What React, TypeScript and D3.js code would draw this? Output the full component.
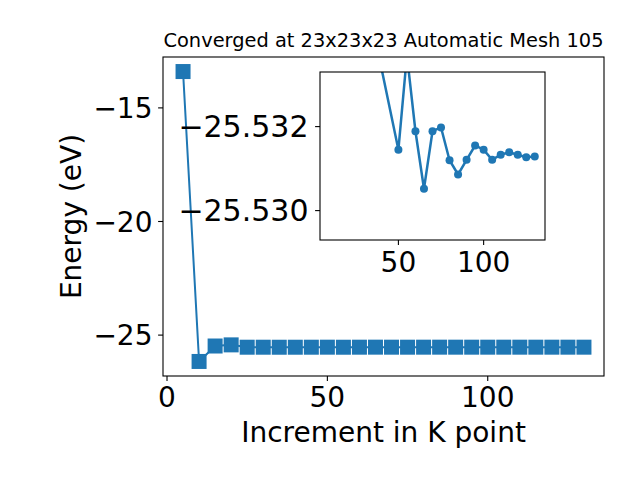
import React from "react";
import * as d3 from "d3";

const kPoints = [5, 10, 15, 20, 25, 30, 35, 40, 45, 50, 55, 60, 65, 70, 75, 80, 85, 90, 95, 100, 105, 110, 115, 120, 125, 130];
const energy = [
  -13.4, -26.16, -25.48, -25.43, -25.533, -25.533, -25.534, -25.5334, -25.533, -25.53145,
  -25.5337, -25.53189, -25.53052, -25.53189, -25.53198, -25.5312, -25.53086, -25.53121, -25.53155, -25.53145,
  -25.53121, -25.53133, -25.53139, -25.53133, -25.53127, -25.53129,
];
const insetK = [40, 50, 55, 60, 65, 70, 75, 80, 85, 90, 95, 100, 105, 110, 115, 120, 125, 130];
const insetE = [
  -25.5334, -25.53145, -25.5337, -25.53189, -25.53052, -25.53189, -25.53198, -25.5312, -25.53086, -25.53121,
  -25.53155, -25.53145, -25.53121, -25.53133, -25.53139, -25.53133, -25.53127, -25.53129,
];
const xTicks = [0, 50, 100];
const yTicks = [-15, -20, -25];
const insetXTicks = [50, 100];
const insetYTicks = [-25.532, -25.53];
const title = "Converged at 23x23x23 Automatic Mesh 105";
const xLabel = "Increment in K point";
const yLabel = "Energy (eV)";

const C = "#1f77b4";
const FONT = "DejaVu Sans";
const FS = 28;
const fmtMinus = (s: string) => s.replace("-", "\u2212");

export default function App() {
  const L = 163, R = 604, T = 57, B = 376;
  const x = d3.scaleLinear().domain([-1.25, 136.25]).range([L, R]);
  const y = d3.scaleLinear().domain([-26.8, -12.76]).range([B, T]);
  const line = d3.line<number>().x((_, i) => x(kPoints[i])).y((d) => y(d));

  const iL = 320, iR = 545, iT = 72, iB = 240;
  const ix = d3.scaleLinear().domain([4, 136]).range([iL, iR]);
  const iy = d3.scaleLinear().domain([-25.5333, -25.5293]).range([iT, iB]);
  const iline = d3.line<number>().x((_, i) => ix(insetK[i])).y((d) => iy(d));

  const sq = 15;
  return (
    <svg width={640} height={480} style={{ position: "absolute", left: 0, top: 0, background: "#fff" }} fontFamily={FONT}>
      <rect width={640} height={480} fill="#fff" />
      <text x={(L + R) / 2} y={47.3} fontSize={19.4} textAnchor="middle">{title}</text>
      {/* main axes */}
      <path d={line(energy) || ""} fill="none" stroke={C} strokeWidth={2} />
      {energy.map((d, i) => (
        <rect key={i} x={x(kPoints[i]) - sq / 2} y={y(d) - sq / 2} width={sq} height={sq} fill={C} />
      ))}
      <rect x={L} y={T} width={R - L} height={B - T} fill="none" stroke="#000" strokeWidth={1.1} />
      {xTicks.map((t) => (
        <g key={t}>
          <line x1={x(t)} x2={x(t)} y1={B} y2={B + 4.9} stroke="#000" strokeWidth={1.1} />
          <text x={x(t)} y={406.7} fontSize={FS} textAnchor="middle">{t}</text>
        </g>
      ))}
      {yTicks.map((t) => (
        <g key={t}>
          <line x1={L - 4.9} x2={L} y1={y(t)} y2={y(t)} stroke="#000" strokeWidth={1.1} />
          <text x={152.5} y={y(t)} dy="0.36em" fontSize={FS} textAnchor="end">{fmtMinus(String(t))}</text>
        </g>
      ))}
      <text x={(L + R) / 2} y={441.5} fontSize={FS} textAnchor="middle">{xLabel}</text>
      <text transform={`translate(81,${(T + B) / 2}) rotate(-90)`} fontSize={FS} textAnchor="middle">{yLabel}</text>
      {/* inset */}
      <defs>
        <clipPath id="iclip">
          <rect x={iL} y={iT} width={iR - iL} height={iB - iT} />
        </clipPath>
      </defs>
      <rect x={iL} y={iT} width={iR - iL} height={iB - iT} fill="#fff" />
      <g clipPath="url(#iclip)">
        <path d={iline(insetE) || ""} fill="none" stroke={C} strokeWidth={2.5} />
        {insetE.map((d, i) => (
          <circle key={i} cx={ix(insetK[i])} cy={iy(d)} r={4} fill={C} />
        ))}
      </g>
      <rect x={iL} y={iT} width={iR - iL} height={iB - iT} fill="none" stroke="#000" strokeWidth={1.1} />
      {insetXTicks.map((t) => (
        <g key={t}>
          <line x1={ix(t)} x2={ix(t)} y1={iB} y2={iB + 4.9} stroke="#000" strokeWidth={1.1} />
          <text x={ix(t)} y={271.7} fontSize={FS} textAnchor="middle">{t}</text>
        </g>
      ))}
      {insetYTicks.map((t) => (
        <g key={t}>
          <line x1={iL - 4.9} x2={iL} y1={iy(t)} y2={iy(t)} stroke="#000" strokeWidth={1.1} />
          <text x={308.5} y={iy(t)} dy="0.36em" fontSize={30} textAnchor="end">{fmtMinus(t.toFixed(3))}</text>
        </g>
      ))}
    </svg>
  );
}
